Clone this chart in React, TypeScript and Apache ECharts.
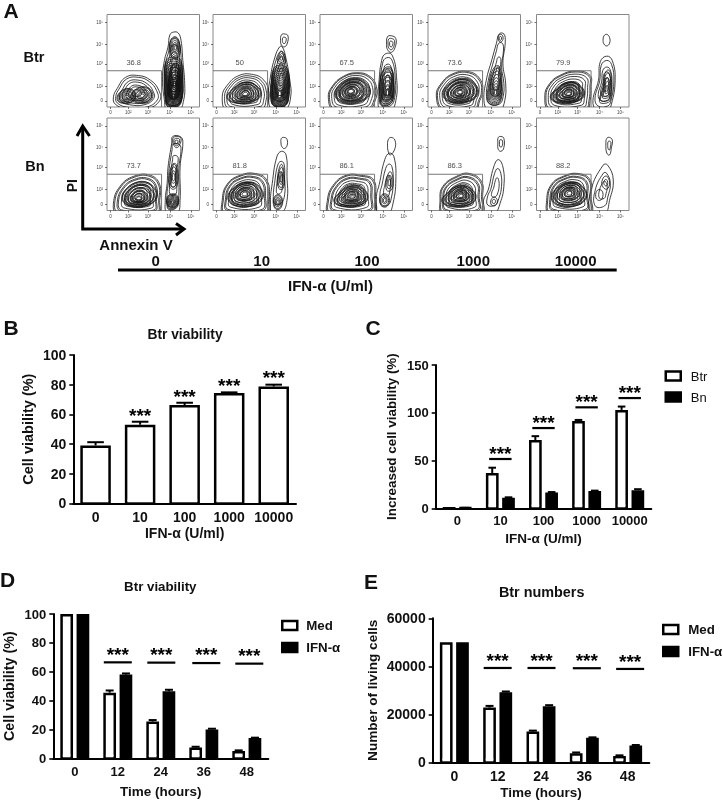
import React, { useEffect, useRef } from "react";
import * as echarts from "echarts";

const FONT = '"Liberation Sans", Arial, sans-serif';

// ---------- Panel A: flow cytometry ----------
const gateValues = ["36.8", "50", "67.5", "73.6", "79.9", "73.7", "81.8", "86.1", "86.3", "88.2"];
const doseLabels = ["0", "10", "100", "1000", "10000"];
const flowTickValues = [3.8, 23, 44.3, 68, 90.8];
const flowYTickValues = [6.5, 22.7, 46.5, 68, 91.4];
const flowTickLabels = ["0", "10²", "10³", "10⁴", "10⁵"];
const ringScales = [1, 0.95, 0.9, 0.85, 0.8, 0.74, 0.68, 0.62, 0.56, 0.5, 0.45, 0.4, 0.35, 0.3, 0.25, 0.2, 0.15, 0.1];

type Cluster = { outline: number[][]; focus: number[]; levels: number };

const coreWide = [[15, 10], [22, 20], [34, 27], [46, 24], [52, 14], [44, 6], [26, 4]];
const coreTilt = [[16, 14], [24, 26], [38, 31], [50, 26], [54, 14], [42, 5], [24, 5]];

const r1c1: Cluster[] = [
  { outline: [[7, 11], [11, 20], [20, 32], [34, 34], [47, 29], [56, 18], [57, 7], [43, -2], [22, -2], [9, 3]], focus: [32, 15], levels: 7 },
  { outline: [[11, 8], [14, 16], [24, 20], [31, 14], [28, 6], [17, 4]], focus: [21, 11], levels: 7 },
  { outline: [[26, 9], [30, 18], [40, 22], [49, 16], [47, 7], [36, 4]], focus: [38, 12], levels: 7 },
  { outline: [[62, 8], [60, 30], [62, 50], [66, 65], [68, 78], [72, 81], [77, 80], [80, 72], [82, 50], [84, 25], [83, 8], [78, -3], [65, -3]], focus: [72, 38], levels: 6 },
  { outline: [[63, 8], [62, 30], [64, 50], [72, 54], [80, 50], [82, 25], [81, 8], [76, 0], [66, 0]], focus: [72, 10], levels: 18 },
  { outline: [[68, 58], [69, 72], [74, 76], [78, 70], [79, 58], [74, 52]], focus: [74, 64], levels: 6 },
  { outline: [[66, 15], [67, 32], [71, 46], [77, 46], [79, 25], [77, 12], [71, 8]], focus: [73, 24], levels: 12 },
];
const r1c2: Cluster[] = [
  { outline: [[10, 11], [15, 23], [28, 34], [44, 35], [55, 29], [60, 18], [60, 7], [55, -3], [15, -3]], focus: [35, 15], levels: 9 },
  { outline: coreWide, focus: [35, 14], levels: 11 },
  { outline: [[60, 11], [62, 32], [67, 54], [72, 65], [75, 65], [79, 52], [83, 29], [84, 11], [78, -3], [64, -3]], focus: [74, 30], levels: 6 },
  { outline: [[63, 8], [63, 26], [66, 42], [74, 45], [81, 40], [82, 14], [78, 1], [66, 1]], focus: [72, 12], levels: 17 },
  { outline: [[70, 48], [72, 58], [75, 60], [78, 54], [77, 47]], focus: [74, 53], levels: 3 },
  { outline: [[73, 72], [74, 78], [77, 79], [81, 77], [80, 68], [77, 65], [74, 67]], focus: [77, 72], levels: 2 },
];
const r1c3: Cluster[] = [
  { outline: [[9, 10], [13, 22], [25, 33], [40, 37], [54, 33], [61, 22], [60, 8], [52, -3], [15, -3]], focus: [33, 17], levels: 10 },
  { outline: coreTilt, focus: [33, 17], levels: 13 },
  { outline: [[63, 11], [64, 30], [66, 47], [70, 57], [78, 56], [83, 29], [82, 7], [77, -3], [65, -3]], focus: [73, 27], levels: 5 },
  { outline: [[65, 8], [65, 30], [70, 42], [77, 42], [80, 26], [79, 8], [74, 2], [67, 2]], focus: [73, 14], levels: 12 },
  { outline: [[72, 68], [73, 76], [77, 77], [82, 74], [81, 64], [77, 59], [73, 62]], focus: [77, 68], levels: 3 },
];
const r1c4: Cluster[] = [
  { outline: [[9, 12], [14, 25], [27, 36], [45, 38], [57, 29], [59, 16], [56, 7], [51, -3], [16, -3]], focus: [33, 15], levels: 10 },
  { outline: coreTilt, focus: [35, 16], levels: 13 },
  { outline: [[60.5, 7], [63, 29], [69, 51], [74, 69], [77, 79], [82, 79], [83.5, 70], [81, 47], [84, 25], [83, 7], [78, -3], [65, -3]], focus: [74, 28], levels: 4 },
  { outline: [[65, 6], [66, 26], [71, 42], [77, 44], [80, 26], [79, 8], [73, 2]], focus: [73, 15], levels: 9 },
  { outline: [[76, 74], [77, 78], [80, 78], [81, 73], [78, 70]], focus: [78, 74], levels: 2 },
];
const r1c5: Cluster[] = [
  { outline: [[9, 12], [14, 25], [25, 34], [43, 39], [58, 34], [59, 22], [58, 7], [54, -3], [14, -3]], focus: [34, 16], levels: 10 },
  { outline: coreWide, focus: [35, 14], levels: 13 },
  { outline: [[61, 7], [67, 29], [69, 49], [76, 55], [82, 50], [85, 29], [81, 3], [77, -3], [65, -3]], focus: [76, 24], levels: 5 },
  { outline: [[68, 6], [72, 22], [74, 36], [78, 40], [81, 30], [80, 8], [74, 4]], focus: [76, 18], levels: 5 },
  { outline: [[72, 72], [73, 77], [76, 78.5], [79, 75], [79, 69], [76, 66], [73, 68]], focus: [76, 72], levels: 1 },
];
const r2c1: Cluster[] = [
  { outline: [[7, 8], [14, 26], [29, 37], [47, 38], [57, 28], [57, 11], [55, -3], [11, -3]], focus: [34, 15], levels: 11 },
  { outline: coreTilt, focus: [34, 12], levels: 12 },
  { outline: [[63, 11], [65, 29], [66, 47], [70, 73], [71, 80], [79, 80], [82, 74], [79, 47], [79, 11], [76, -3], [65, -3]], focus: [72, 38], levels: 4 },
  { outline: [[65, 4], [65, 14], [70, 18], [76, 16], [77, 6], [72, 1], [67, 1]], focus: [71, 9], levels: 9 },
  { outline: [[68, 26], [68, 42], [72, 50], [76, 44], [76, 28], [72, 23]], focus: [72, 36], levels: 4 },
  { outline: [[71, 76], [72, 79], [76, 80], [80, 78], [78, 70], [75, 68], [72, 71]], focus: [75, 74], levels: 3 },
];
const r2c2: Cluster[] = [
  { outline: [[10, 11], [15, 28], [29, 38], [46, 40], [58, 33], [61, 15], [58, -3], [12, -3]], focus: [33, 18], levels: 11 },
  { outline: coreTilt, focus: [34, 18], levels: 11 },
  { outline: [[62, 8], [64, 29], [69, 58], [74, 64], [79, 60], [80, 37], [80, 11], [74, -3], [64, -3]], focus: [72, 30], levels: 3 },
  { outline: [[66, 4], [66, 14], [71, 17], [75, 12], [74, 4], [70, 1]], focus: [70, 9], levels: 5 },
  { outline: [[71, 24], [70, 38], [74, 50], [77, 38], [76, 24]], focus: [74, 34], levels: 4 },
  { outline: [[73.5, 73], [74, 78], [77, 79], [80, 77], [80, 70], [77, 67], [74.5, 69]], focus: [77, 73], levels: 1 },
];
const r2c3: Cluster[] = [
  { outline: [[8, 11], [14, 27], [28, 38], [45, 38], [58, 33], [60, 15], [58, -3], [10, -3]], focus: [34, 17], levels: 11 },
  { outline: coreWide, focus: [35, 14], levels: 11 },
  { outline: [[61, 15], [64, 28], [70, 55], [75, 62], [80, 58], [82, 33], [79, 8], [74, -3], [63, -3]], focus: [73, 25], levels: 3 },
  { outline: [[65, 8], [66, 16], [71, 18], [75, 13], [73, 5], [68, 4]], focus: [70, 11], levels: 4 },
  { outline: [[72, 22], [72, 34], [76, 42], [79, 32], [77, 22]], focus: [75, 30], levels: 3 },
  { outline: [[73, 70], [74, 77], [77, 79], [81, 76], [81, 67], [76, 60], [74, 63]], focus: [77, 70], levels: 1 },
];
const r2c4: Cluster[] = [
  { outline: [[13, 11], [16, 26], [31, 37], [45, 40], [58, 31], [59, 15], [58, -3], [16, -3]], focus: [34, 17], levels: 11 },
  { outline: coreWide, focus: [36, 16], levels: 11 },
  { outline: [[60, 11], [65, 22], [71, 47], [76, 55], [81, 47], [82, 26], [78, 8], [72, -3], [60, -3]], focus: [74, 25], levels: 3 },
  { outline: [[68, 7], [69, 13], [73, 14], [75, 9], [72, 5]], focus: [71, 10], levels: 2 },
  { outline: [[75.5, 73], [76, 79], [79, 80], [82, 78], [82, 68], [79, 64], [76, 66]], focus: [79, 73], levels: 2 },
];
const r2c5: Cluster[] = [
  { outline: [[11, 11], [16, 28], [29, 37], [45, 40], [58, 33], [59, 15], [58, -3], [14, -3]], focus: [34, 19], levels: 11 },
  { outline: coreTilt, focus: [36, 19], levels: 11 },
  { outline: [[59, 22], [72, 49], [77, 49], [83, 33], [79, 11], [74, -3], [59, -3]], focus: [73, 22], levels: 3 },
  { outline: [[64, 15], [66, 22], [71, 21], [71, 13], [67, 11]], focus: [68, 17], levels: 1 },
  { outline: [[71, 27], [72, 35], [76, 37], [79, 30], [76, 23]], focus: [75, 30], levels: 2 },
  { outline: [[75, 72], [76, 78], [79, 79], [82, 76], [81, 68], [79, 60], [76, 62]], focus: [79, 71], levels: 2 },
];
const flowPanels = [r1c1, r1c2, r1c3, r1c4, r1c5, r2c1, r2c2, r2c3, r2c4, r2c5];
const gatePath = [[0, 39.2], [59, 39.2], [59, 0]];
const gateLabelAt = [28.9, 48.6];

// ---------- Panel B ----------
const doses = ["0", "10", "100", "1000", "10000"];
const bViability = [39, 53, 66.3, 74.3, 78.8];
const bViabilityTop = [41.2, 55, 67.8, 74.8, 80];
const bStars = [[1, 61.6], [2, 74.4], [3, 82], [4, 87.2]];

// ---------- Panel C ----------
const cBtr = [0, 37, 71.5, 91.5, 103];
const cBtrTop = [0, 42.5, 75.5, 92.5, 106.5];
const cBn = [0.4, 11, 16.5, 18, 19];
const cBnTop = [0.5, 11.5, 17, 18.5, 20];
const cSig = [[1, 51.6], [2, 84], [3, 105.7], [4, 115.4]];

// ---------- Panel D ----------
const hours = ["0", "12", "24", "36", "48"];
const dMed = [100, 45.5, 25.5, 7.5, 5];
const dMedTop = [100, 47, 26.5, 8, 5.5];
const dIfn = [100, 58, 46.5, 20, 14];
const dIfnTop = [100, 58.8, 47.5, 20.5, 14.3];
const dSig = [[1, 66.5], [2, 66.3], [3, 66], [4, 65.6]];

// ---------- Panel E ----------
const eMed = [50000, 22800, 12800, 3800, 2600];
const eMedTop = [50000, 23500, 13200, 4100, 2900];
const eIfn = [50000, 29200, 23400, 10200, 7000];
const eIfnTop = [50000, 29500, 23800, 10400, 7200];
const eSig = [[1, 39300], [2, 39300], [3, 39200], [4, 38900]];

const sigShiftPx = [0, 0, 0.5, 2.5, 2.5];

function smallAxes(i: number) {
  const xAxis = {
    type: "value", gridIndex: i, min: 0, max: 100, splitLine: { show: false },
    axisLine: { show: false },
    axisTick: { show: true, length: 2, customValues: flowTickValues, lineStyle: { color: "#333", width: 0.7 } },
    axisLabel: {
      customValues: flowTickValues, margin: 3, fontSize: 4.5, color: "#444", fontFamily: FONT,
      formatter: (v: number) => flowTickLabels[flowTickValues.indexOf(v)] ?? "",
    },
  };
  const yAxis = {
    type: "value", gridIndex: i, min: 0, max: 100, splitLine: { show: false },
    axisLine: { show: false },
    axisTick: { show: true, length: 2, customValues: flowYTickValues, lineStyle: { color: "#333", width: 0.7 } },
    axisLabel: {
      customValues: flowYTickValues, margin: 4, fontSize: 4.5, color: "#444", fontFamily: FONT,
      formatter: (v: number) => flowTickLabels[flowYTickValues.indexOf(v)] ?? "",
    },
  };
  return { xAxis, yAxis };
}

function bigAxes(i: number, cats: string[], o: any) {
  return {
    xAxis: {
      type: "category", gridIndex: i, data: cats, name: o.xName, nameLocation: "middle", nameGap: o.xGap,
      nameMoveOverlap: false,
      nameTextStyle: { fontFamily: FONT, fontWeight: "bold", fontSize: o.nameSize, color: "#111" },
      axisLine: { lineStyle: { color: "#000", width: 2 } },
      axisTick: { alignWithLabel: true, length: 5, lineStyle: { color: "#000", width: 1.6 } },
      axisLabel: { interval: 0, hideOverlap: false, margin: o.xMargin, fontFamily: FONT, fontWeight: "bold", fontSize: o.xSize, color: "#111" },
      splitLine: { show: false },
    },
    yAxis: {
      type: "value", gridIndex: i, min: 0, max: o.max, interval: o.interval, name: o.yName, nameLocation: "middle", nameGap: o.yGap,
      nameMoveOverlap: false,
      nameTextStyle: { fontFamily: FONT, fontWeight: "bold", fontSize: o.yNameSize, color: "#111" },
      axisLine: { show: true, lineStyle: { color: "#000", width: 2 } },
      axisTick: { show: true, length: 4, lineStyle: { color: "#000", width: 1.6 } },
      axisLabel: { margin: 7, fontFamily: FONT, fontWeight: "bold", fontSize: o.ySize, color: "#111", formatter: (v: number) => String(v) },
      splitLine: { show: false },
    },
  };
}

function barSeries(i: number, name: string, data: number[], dark: boolean, width: number, gap?: string) {
  return {
    type: "bar", name, xAxisIndex: i, yAxisIndex: i, data, barWidth: width, barGap: gap,
    itemStyle: { color: dark ? "#000" : "#fff", borderColor: "#000", borderWidth: 2.5 },
    silent: true,
  };
}

// opens the foot of a white bar so that its outline merges with the axis line
function footSeries(i: number, values: number[], shift: number, outer: number) {
  return {
    type: "custom", xAxisIndex: i, yAxisIndex: i, silent: true, z: 3,
    data: values.map((v, k) => [k, 0, v]).filter((d) => d[2] > 0),
    renderItem: (_: any, api: any) => {
      const p = api.coord([api.value(0), 0]);
      const half = outer / 2 - 2.5;
      return {
        type: "rect",
        shape: { x: p[0] + shift - half, y: p[1] - 3.6, width: half * 2, height: 2.6 },
        style: { fill: "#fff" },
      };
    },
  };
}

function errSeries(i: number, tops: number[], bases: number[], shift: number, capHalf: number) {
  return {
    type: "custom", xAxisIndex: i, yAxisIndex: i, silent: true, z: 3,
    data: tops.map((t, k) => [k, t, bases[k]]).filter((d) => d[1] > d[2]),
    renderItem: (_: any, api: any) => {
      const top = api.coord([api.value(0), api.value(1)]);
      const base = api.coord([api.value(0), api.value(2)]);
      const x = top[0] + shift;
      const style = { stroke: "#000", lineWidth: 2, fill: "none" };
      return {
        type: "group",
        children: [
          { type: "line", shape: { x1: x, y1: base[1], x2: x, y2: top[1] }, style },
          { type: "line", shape: { x1: x - capHalf, y1: top[1], x2: x + capHalf, y2: top[1] }, style },
        ],
      };
    },
  };
}

function sigSeries(i: number, data: number[][], half: number, starGap: number, useShift: boolean) {
  return {
    type: "custom", xAxisIndex: i, yAxisIndex: i, silent: true, z: 4, data,
    renderItem: (_: any, api: any) => {
      const idx = api.value(0);
      const p = api.coord([idx, api.value(1)]);
      const x = p[0] + (useShift ? sigShiftPx[idx] : 0);
      const children: any[] = [];
      if (half > 0) {
        children.push({ type: "line", shape: { x1: x - half, y1: p[1], x2: x + half, y2: p[1] }, style: { stroke: "#000", lineWidth: 2.2, fill: "none" } });
      }
      children.push({
        type: "text",
        style: { text: "***", x, y: p[1] - starGap + 3.5, align: "center", verticalAlign: "middle", fontFamily: FONT, fontWeight: "bold", fontSize: 19, fill: "#000" },
      });
      return { type: "group", children };
    },
  };
}

function flowSeries(i: number) {
  const clusters = flowPanels[i];
  return [
    {
      type: "custom", xAxisIndex: i, yAxisIndex: i, silent: true, clip: true,
      data: clusters.map((c) => c.focus),
      renderItem: (params: any, api: any) => {
        const c = clusters[params.dataIndex];
        const step = ringScales.length / c.levels;
        const children = Array.from({ length: c.levels }, (_, k) => ringScales[Math.floor(k * step)]).map((s) => ({
          type: "polygon",
          shape: {
            smooth: 0.45,
            points: c.outline.map((p) =>
              api.coord([c.focus[0] + (p[0] - c.focus[0]) * s, c.focus[1] + (p[1] - c.focus[1]) * s]),
            ),
          },
          style: { fill: "none", stroke: "#111", lineWidth: 0.8 },
        }));
        return { type: "group", children };
      },
    },
    {
      type: "line", xAxisIndex: i, yAxisIndex: i, silent: true, data: gatePath, showSymbol: false, symbol: "none",
      lineStyle: { color: "#777", width: 1 },
    },
    {
      type: "scatter", xAxisIndex: i, yAxisIndex: i, silent: true, symbolSize: 0, data: [gateLabelAt],
      label: { show: true, position: "inside", formatter: gateValues[i], fontFamily: FONT, fontSize: 7.5, color: "#222" },
    },
  ];
}

function plainText(text: string, x: number, y: number, size: number, weight = "bold", rotation = 0) {
  return {
    type: "text", x, y, rotation, silent: true,
    style: { text, align: "center", verticalAlign: "middle", fontFamily: FONT, fontSize: size, fontWeight: weight, fill: "#111" },
  };
}

const cellXs = [107, 213, 320, 428, 536.5];
const cellYs = [14.5, 118];
const doseXs = [155.7, 261.7, 367, 473.3, 575.7];

function buildOption() {
  const grid: any[] = [];
  const xAxis: any[] = [];
  const yAxis: any[] = [];
  const series: any[] = [];
  for (let i = 0; i < 10; i++) {
    grid.push({
      left: cellXs[i % 5], top: cellYs[Math.floor(i / 5)], width: 92.5, height: 92.5,
      show: true, borderColor: "#888", borderWidth: 1, backgroundColor: "transparent",
    });
    const a = smallAxes(i);
    xAxis.push(a.xAxis);
    yAxis.push(a.yAxis);
    series.push(...flowSeries(i));
  }
  grid.push({ left: 73.3, top: 355, width: 222.7, height: 148.3 });
  grid.push({ left: 435.7, top: 365, width: 215.6, height: 143.3 });
  grid.push({ left: 53.3, top: 614, width: 215, height: 144.3 });
  grid.push({ left: 432.7, top: 618.3, width: 216.6, height: 144 });

  const b = bigAxes(10, doses, { xName: "IFN-α (U/ml)", xGap: 23, nameSize: 14, xMargin: 7, xSize: 14, max: 100, interval: 20, yName: "Cell viability (%)", yGap: 38, yNameSize: 14.5, ySize: 14 });
  const c = bigAxes(11, doses, { xName: "IFN-α (U/ml)", xGap: 23, nameSize: 13.5, xMargin: 6, xSize: 13, max: 150, interval: 50, yName: "Increased cell viability (%)", yGap: 38, yNameSize: 13.4, ySize: 13 });
  const d = bigAxes(12, hours, { xName: "Time (hours)", xGap: 26, nameSize: 13.5, xMargin: 7, xSize: 13, max: 100, interval: 20, yName: "Cell viability (%)", yGap: 37, yNameSize: 14.3, ySize: 13 });
  const e = bigAxes(13, hours, { xName: "Time (hours)", xGap: 23, nameSize: 13.5, xMargin: 7, xSize: 14, max: 60000, interval: 20000, yName: "Number of living cells", yGap: 53, yNameSize: 13.6, ySize: 14 });
  [b, c, d, e].forEach((a) => { xAxis.push(a.xAxis); yAxis.push(a.yAxis); });

  const barW = 12.7;
  const gap = "28%";
  series.push(
    barSeries(10, "Btr viability", bViability, false, 30.5),
    footSeries(10, bViability, 0, 30.5),
    errSeries(10, bViabilityTop, bViability, 0, 8.3),
    sigSeries(10, bStars, 0, 0, false),

    barSeries(11, "Btr", cBtr, false, barW, gap),
    barSeries(11, "Bn", cBn, true, barW, gap),
    footSeries(11, cBtr, -8.15, barW),
    errSeries(11, cBtrTop, cBtr, -8.15, 3.8),
    errSeries(11, cBnTop, cBn, 8.15, 3.8),
    sigSeries(11, cSig, 11.2, 9.5, false),

    barSeries(12, "Med", dMed, false, barW, gap),
    barSeries(12, "IFN-α", dIfn, true, barW, gap),
    footSeries(12, dMed, -8.15, barW),
    errSeries(12, dMedTop, dMed, -8.15, 4),
    errSeries(12, dIfnTop, dIfn, 8.15, 4),
    sigSeries(12, dSig, 14, 11.7, true),

    barSeries(13, "Med", eMed, false, barW, gap),
    barSeries(13, "IFN-α", eIfn, true, barW, gap),
    footSeries(13, eMed, -8.15, barW),
    errSeries(13, eMedTop, eMed, -8.15, 4),
    errSeries(13, eIfnTop, eIfn, 8.15, 4),
    sigSeries(13, eSig, 14, 11.3, true),
  );

  const legendBase = { orient: "vertical", icon: "rect", padding: 0, selectedMode: false, itemWidth: 15, itemHeight: 9, itemStyle: { borderWidth: 2.5, borderColor: "#000" } };
  const legend = [
    { ...legendBase, data: ["Btr", "Bn"], left: 664.5, top: 369.5, itemGap: 8, textStyle: { fontFamily: FONT, fontSize: 13, color: "#111", padding: [0, 0, 0, 5] } },
    { ...legendBase, data: ["Med", "IFN-α"], left: 281, top: 619, itemGap: 9, textStyle: { fontFamily: FONT, fontSize: 13.3, fontWeight: "bold", color: "#111", padding: [0, 0, 0, 4] } },
    { ...legendBase, data: ["Med", "IFN-α"], left: 662, top: 623, itemGap: 9, textStyle: { fontFamily: FONT, fontSize: 13.3, fontWeight: "bold", color: "#111", padding: [0, 0, 0, 5] } },
  ];

  const titleStyle = (size: number) => ({ fontFamily: FONT, fontWeight: "bold", fontSize: size, color: "#111" });
  const title = [
    { text: "Btr viability", left: 185, top: 327, textAlign: "center", textStyle: titleStyle(13.8), padding: 0 },
    { text: "Btr viability", left: 160.3, top: 580, textAlign: "center", textStyle: titleStyle(13.3), padding: 0 },
    { text: "Btr numbers", left: 541.7, top: 585, textAlign: "center", textStyle: titleStyle(14.4), padding: 0 },
  ];

  const arrowStyle = { stroke: "#000", lineWidth: 3, fill: "none", lineJoin: "miter" };
  const graphic = [
    plainText("A", 11, 10, 21),
    plainText("B", 11, 327, 21),
    plainText("C", 373, 327.5, 21),
    plainText("D", 7.5, 579.5, 21),
    plainText("E", 371, 581, 21),
    plainText("Btr", 34, 57, 14.5),
    plainText("Bn", 35, 166, 14.5),
    plainText("PI", 72.3, 185.7, 14, "bold", Math.PI / 2),
    plainText("Annexin V", 136, 244, 15),
    ...doseLabels.map((t, k) => plainText(t, doseXs[k], 260, 15)),
    plainText("IFN-α (U/ml)", 330.5, 285, 15),
    { type: "polyline", silent: true, shape: { points: [[82.7, 127], [82.7, 229], [182, 229]] }, style: arrowStyle },
    { type: "polyline", silent: true, shape: { points: [[77, 136], [82.7, 126], [89.5, 136]] }, style: arrowStyle },
    { type: "polyline", silent: true, shape: { points: [[176, 223.5], [184, 229], [176, 235]] }, style: arrowStyle },
    { type: "line", silent: true, shape: { x1: 118, y1: 270, x2: 616.7, y2: 270 }, style: { stroke: "#000", lineWidth: 2.8 } },
  ];

  return { animation: false, backgroundColor: "#fff", grid, xAxis, yAxis, series, legend, title, graphic };
}

export default function App() {
  const ref = useRef<HTMLDivElement>(null);
  useEffect(() => {
    const chart = echarts.init(ref.current!, undefined, { renderer: "svg" });
    chart.setOption(buildOption() as any);
    return () => chart.dispose();
  }, []);
  return <div ref={ref} style={{ position: "absolute", left: 0, top: 0, width: 723, height: 801, filter: "blur(0.45px)" }} />;
}
